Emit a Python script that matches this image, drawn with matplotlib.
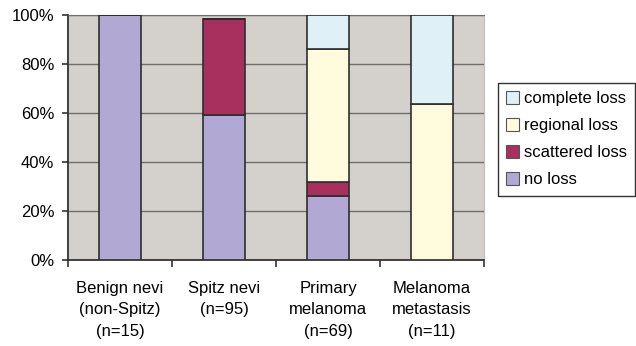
import numpy as np
import matplotlib
matplotlib.use("Agg")
import matplotlib.pyplot as plt
from matplotlib.ticker import PercentFormatter, FixedLocator

plt.rcParams["font.family"] = ["Liberation Sans", "DejaVu Sans"]

categories = [
    "Benign nevi\n(non-Spitz)\n(n=15)",
    "Spitz nevi\n(n=95)",
    "Primary\nmelanoma\n(n=69)",
    "Melanoma\nmetastasis\n(n=11)",
]
series_names = ["no loss", "scattered loss", "regional loss", "complete loss"]
no_loss = [100, 59, 26, 0]
scattered_loss = [0, 39.5, 6, 0]
regional_loss = [0, 0, 54, 63.5]
complete_loss = [0, 0, 14, 36.5]
series_values = [no_loss, scattered_loss, regional_loss, complete_loss]
series_colors = ["#b2a8d4", "#a8305f", "#fffbdc", "#dff0f6"]

fig = plt.figure(figsize=(6.36, 3.46), dpi=100)
ax = fig.add_axes([0.107, 0.2486, 0.654, 0.708])
ax.set_facecolor("#d4d0cc")

x = np.arange(len(categories))
bottom = np.zeros(len(categories))
bars = []
for name, vals, col in zip(series_names, series_values, series_colors):
    vals = np.array(vals, dtype=float)
    b = ax.bar(x, vals, width=0.4, bottom=bottom, color=col,
               edgecolor="#2e2e2e", linewidth=1.2, label=name, zorder=3)
    bars.append(b)
    bottom += vals

ax.set_xlim(-0.5, len(categories) - 0.5)
ax.set_ylim(0, 100)
ax.yaxis.set_major_locator(FixedLocator([0, 20, 40, 60, 80, 100]))
ax.yaxis.set_major_formatter(PercentFormatter(decimals=0))
ax.grid(axis="y", color="#6e6e6e", linewidth=1.0, zorder=1)
ax.set_axisbelow(True)

# category labels at centers, tick marks at boundaries
ax.set_xticks(x)
ax.set_xticklabels(categories, fontsize=12, linespacing=1.55)
ax.tick_params(axis="x", which="major", length=0, pad=15)
ax.set_xticks(np.arange(len(categories) + 1) - 0.5, minor=True)
ax.tick_params(axis="x", which="minor", length=5, width=1.2, color="#333333",
               direction="out")
ax.tick_params(axis="y", length=4, width=1.2, color="#333333", labelsize=12, pad=6)

for side in ["left", "bottom"]:
    ax.spines[side].set_color("#333333")
    ax.spines[side].set_linewidth(1.3)
ax.spines["top"].set_color("#6e6e6e")
ax.spines["right"].set_color("#bdbdbd")

handles = [bars[3], bars[2], bars[1], bars[0]]
labels = [series_names[3], series_names[2], series_names[1], series_names[0]]
leg = fig.legend(handles, labels, loc="upper left",
                 bbox_to_anchor=(498 / 636, 1 - 83 / 346),
                 fontsize=12, frameon=True, fancybox=False,
                 handlelength=0.75, handleheight=0.75, handletextpad=0.3,
                 labelspacing=0.72, borderpad=0.5, borderaxespad=0)
leg.get_frame().set_edgecolor("#000000")
leg.get_frame().set_linewidth(1.0)
for h in leg.legend_handles:
    h.set_edgecolor("#555555")
    h.set_linewidth(0.8)

fig.savefig("out.png", dpi=100)
